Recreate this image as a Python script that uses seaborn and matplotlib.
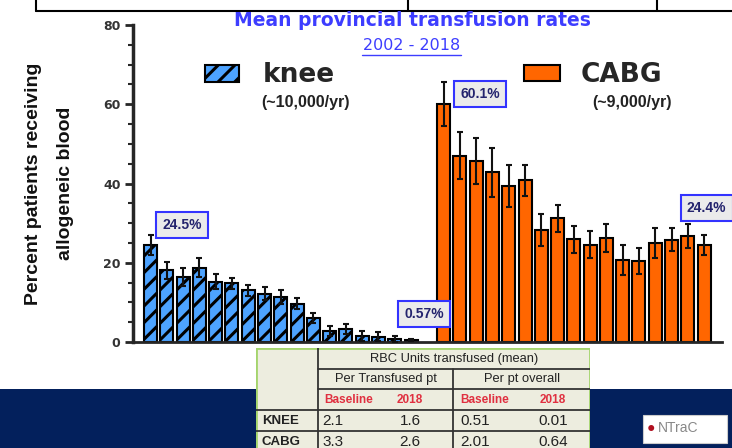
import matplotlib
matplotlib.use("Agg")
import pandas as pd
import matplotlib.pyplot as plt
import seaborn as sns
from matplotlib.lines import Line2D
from matplotlib.patches import Rectangle
from matplotlib.ticker import MultipleLocator

# --- data ---
years = list(range(2002, 2019))
knee_rate = [24.5, 18.1, 16.5, 18.8, 15.2, 14.8, 13.1, 12.2, 11.4, 9.7, 6.1, 2.7, 3.2, 1.5, 1.3, 0.7, 0.57]
knee_err = [2.6, 2.2, 2.3, 2.5, 1.9, 1.4, 1.4, 1.6, 1.7, 1.3, 1.2, 1.3, 1.3, 1.2, 1.1, 0.8, 0.3]
cabg_rate = [60.1, 47.0, 45.7, 42.8, 39.4, 40.8, 28.3, 31.2, 25.9, 24.6, 26.2, 20.8, 20.4, 25.0, 25.8, 26.8, 24.4]
cabg_err = [5.5, 5.9, 5.9, 6.1, 5.3, 3.9, 4.0, 3.4, 3.5, 3.5, 3.5, 3.8, 3.2, 3.7, 2.9, 3.0, 2.5]

callout_text = ["24.5%", "0.57%", "60.1%", "24.4%"]
callout_x = [1.92, 16.8, 20.24, 34.15]
callout_y = [29.5, 7.1, 62.6, 33.8]

tbl_title = "RBC Units transfused (mean)"
tbl_groups = ["Per Transfused pt", "Per pt overall"]
tbl_sub = ["Baseline", "2018", "Baseline", "2018"]
tbl_rows = ["KNEE", "CABG"]
tbl_knee = ["2.1", "1.6", "0.51", "0.01"]
tbl_cabg = ["3.3", "2.6", "2.01", "0.64"]

KNEE_C = "#4da3ff"
CABG_C = "#ff6600"
BLUE_T = "#3d3dff"

W, H = 732, 448
def fx(px):
    return px / W
def fy(py):
    return 1 - py / H

sns.set_style("ticks")
plt.rcParams["font.family"] = ["Liberation Sans", "DejaVu Sans"]
plt.rcParams["hatch.linewidth"] = 2.2

df_knee = pd.DataFrame({"pos": list(range(len(years))), "rate": knee_rate, "err": knee_err})
df_cabg = pd.DataFrame({"pos": [len(years) + 1 + i for i in range(len(years))], "rate": cabg_rate, "err": cabg_err})

fig = plt.figure(figsize=(7.32, 4.48), dpi=100)
ax = fig.add_axes([fx(133), 1 - 342 / H, fx(722) - fx(133), (342 - 25) / H])

sns.barplot(data=df_knee, x="pos", y="rate", native_scale=True, color=KNEE_C, saturation=1,
            edgecolor="black", linewidth=1.5, hatch="//", width=0.8, errorbar=None, ax=ax)
sns.barplot(data=df_cabg, x="pos", y="rate", native_scale=True, color=CABG_C, saturation=1,
            edgecolor="black", linewidth=1.5, width=0.8, errorbar=None, ax=ax)
for d in (df_knee, df_cabg):
    ax.errorbar(d["pos"], d["rate"], yerr=d["err"], fmt="none", ecolor="#111111",
                elinewidth=1.5, capsize=2.5, capthick=1.5, zorder=5)

ax.set_xlim(-1.08, 35.1)
ax.set_ylim(0, 80)
ax.set_xticks([])
ax.set_xlabel("")
ax.yaxis.set_major_locator(MultipleLocator(20))
ax.yaxis.set_minor_locator(MultipleLocator(5))
ax.tick_params(axis="y", which="major", length=6, width=2, pad=3, labelsize=9, labelcolor="#333333")
ax.tick_params(axis="y", which="minor", length=3.5, width=1.5)
for lab in ax.get_yticklabels():
    lab.set_fontweight("bold")
    lab.set_family("DejaVu Sans")
sns.despine(ax=ax)
ax.spines["left"].set_linewidth(2.5)
ax.spines["bottom"].set_linewidth(2)

ax.set_ylabel("Percent patients receiving\nallogeneic blood", fontsize=14, weight="bold",
              color="#111111", linespacing=2.15)
ax.yaxis.set_label_coords(-0.1, 0.5)

# callout boxes
for t, x, y in zip(callout_text, callout_x, callout_y):
    ax.text(x, y, t, ha="center", va="center", fontsize=10, weight="bold", color="#24246e",
            bbox=dict(boxstyle="square,pad=0.45", fc="#ebebeb", ec="#3333ff", lw=1.5), zorder=6)

# legends
knee_h = ax.containers[0].patches[0]
cabg_h = ax.containers[1].patches[0]
leg1 = ax.legend([knee_h], ["knee"], loc="center left", bbox_to_anchor=(fx(205), fy(75.5)),
                 bbox_transform=fig.transFigure, frameon=False, borderpad=0, borderaxespad=0,
                 handlelength=1.3, handleheight=0.6, handletextpad=0.9,
                 prop=dict(family="DejaVu Sans", weight="bold", size=19))
ax.add_artist(leg1)
ax.legend([cabg_h], ["CABG"], loc="center left", bbox_to_anchor=(fx(524), fy(75)),
          bbox_transform=fig.transFigure, frameon=False, borderpad=0, borderaxespad=0,
          handlelength=1.35, handleheight=0.55, handletextpad=0.8,
          prop=dict(family="DejaVu Sans", weight="bold", size=19))
fig.text(fx(306), fy(103), "(~10,000/yr)", ha="center", va="center", fontsize=11.5, weight="bold", color="#222222")
fig.text(fx(632), fy(103), "(~9,000/yr)", ha="center", va="center", fontsize=11.5, weight="bold", color="#222222")

# titles
fig.text(fx(412), fy(21), "Mean provincial transfusion rates", ha="center", va="center",
         fontsize=13.5, weight="bold", family="DejaVu Sans", color=BLUE_T)
fig.text(fx(411.5), fy(45.5), "2002 - 2018", ha="center", va="center", fontsize=11.5,
         family="DejaVu Sans", color=BLUE_T)
fig.add_artist(Line2D([fx(362), fx(461)], [fy(55), fy(55)], color=BLUE_T, lw=1, transform=fig.transFigure))

# frame pieces at the top of the slide
fig.add_artist(Line2D([fx(36), 1], [fy(11), fy(11)], color="black", lw=1.5, transform=fig.transFigure))
for vx in (36, 408, 657):
    fig.add_artist(Line2D([fx(vx), fx(vx)], [1, fy(11)], color="black", lw=1.5, transform=fig.transFigure))

# navy band
fig.add_artist(Rectangle((0, 0), 1, fy(389), fc="#03205c", ec="none", transform=fig.transFigure, zorder=0.5))

# logo
fig.add_artist(Rectangle((fx(643), fy(443)), fx(727) - fx(643), fy(415) - fy(443), fc="white", ec="#cccccc",
                         lw=0.8, transform=fig.transFigure, zorder=1))
fig.text(fx(651), fy(428), "\u25cf", ha="center", va="center", fontsize=10, color="#b01020", zorder=2)
fig.text(fx(658), fy(428), "NTraC", ha="left", va="center", fontsize=10, color="#888888", zorder=2)

# table
tax = fig.add_axes([fx(256), 0, fx(590) - fx(256), 100 / H], zorder=3)
tax.set_xlim(0, 334)
tax.set_ylim(100, 0)
tax.axis("off")
tax.add_patch(Rectangle((0, 0), 334, 104, fc="#ededdf", ec="none"))
for x0, x1, y0, y1 in [(0, 0, 0, 100), (0, 334, 0, 0), (334, 334, 0, 100)]:
    tax.plot([x0, x1], [y0, y1], color="#a4d46c", lw=2)
grid = [(62, 334, 21, 21), (62, 334, 41, 41), (0, 334, 62, 62), (0, 334, 83, 83),
        (62, 62, 0, 100), (197, 197, 21, 100)]
for x0, x1, y0, y1 in grid:
    tax.plot([x0, x1], [y0, y1], color="#333333", lw=1.3)
tax.text(198, 10.5, tbl_title, ha="center", va="center", fontsize=9.3, color="#222222")
tax.text(129.5, 31, tbl_groups[0], ha="center", va="center", fontsize=9.3, color="#222222")
tax.text(265.5, 31, tbl_groups[1], ha="center", va="center", fontsize=9.3, color="#222222")
sub_x = [68, 154, 204, 297]
sub_ha = ["left", "center", "left", "center"]
for t, x, ha in zip(tbl_sub, sub_x, sub_ha):
    tax.text(x, 52, t, ha=ha, va="center", fontsize=8.5, weight="bold", color="#e03040")
for row, vals, y in [(tbl_rows[0], tbl_knee, 72.5), (tbl_rows[1], tbl_cabg, 93.5)]:
    tax.text(6, y, row, ha="left", va="center", fontsize=9.5, weight="bold", color="#222222")
    for v, x, ha in zip(vals, [66, 154, 204, 297], sub_ha):
        tax.text(x, y, v, ha=ha, va="center", fontsize=11, color="#222222")

fig.savefig("out.png", dpi=100)
